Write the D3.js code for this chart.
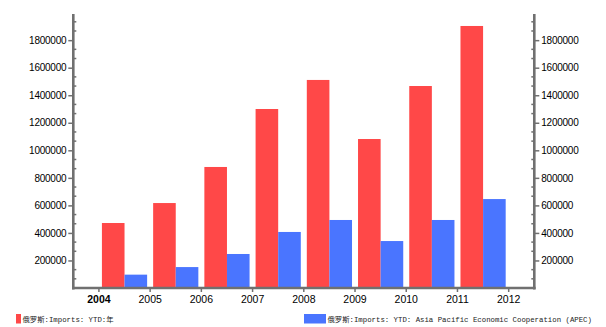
<!DOCTYPE html>
<html><head><meta charset="utf-8">
<script src="https://cdn.jsdelivr.net/npm/d3@7"></script>
<style>body{margin:0;background:#fff;} svg{display:block;}</style>
</head><body>
<div id="chart"></div>
<script>
const years = ["2004","2005","2006","2007","2008","2009","2010","2011","2012"];
const dataYears = ["2004","2005","2006","2007","2008","2009","2010","2011"];
const redValues = [472000, 617000, 879000, 1300000, 1511000, 1082000, 1467000, 1903000];
const blueValues = [97000, 152000, 247000, 407000, 494000, 341000, 494000, 646000];
const yTickValues = [200000,400000,600000,800000,1000000,1200000,1400000,1600000,1800000];
const seriesNames = ["俄罗斯:Imports: YTD:年", "俄罗斯:Imports: YTD: Asia Pacific Economic Cooperation (APEC)"];
const colors = ["#FF4848", "#4A75FF"];

const W = 606, H = 327;
const L = 73.3, R = 534.3, T = 14, B = 288;
const axisColor = "#707070";

const svg = d3.select("#chart").append("svg").attr("width", W).attr("height", H);

const x = d3.scaleBand().domain(years).range([L, R]).padding(0);
const bw = x.bandwidth();
const inner = d3.scaleBand().domain([0,1]).range([0, bw]).paddingInner(0).paddingOuter(0.133);
const y = d3.scaleLinear().domain([0, 1990000]).range([B, T]);

// bars
const series = [redValues, blueValues];
series.forEach((vals, s) => {
  svg.append("g").selectAll("rect").data(vals).join("rect")
    .attr("x", (d, i) => x(dataYears[i]) + bw / 2 + inner(s))
    .attr("width", inner.bandwidth())
    .attr("y", d => y(d))
    .attr("height", d => B - y(d))
    .attr("fill", colors[s]);
});

// minor ticks (thirds)
const minor = [];
for (let v = 0; v <= 1990000; v += 200000 / 3) {
  if (Math.abs((v / 200000) - Math.round(v / 200000)) > 0.01) minor.push(v);
}

function yAxis(side) {
  const g = svg.append("g");
  const ax = side === "left" ? d3.axisLeft(y) : d3.axisRight(y);
  ax.tickValues(yTickValues).tickSize(5).tickPadding(2).tickFormat(d3.format("d"));
  g.attr("transform", `translate(${side === "left" ? L : R},0)`).call(ax);
  g.select(".domain").remove();
  g.selectAll(".tick line").attr("stroke", axisColor).attr("stroke-width", 1.5);
  g.selectAll(".tick text").attr("fill", "#000")
    .style("font-family", "'Liberation Sans', Arial, sans-serif")
    .style("font-size", "10px").style("letter-spacing", "-0.25px");
  // minor ticks inward
  g.selectAll("line.minor").data(minor).join("line").attr("class", "minor")
    .attr("x1", 0).attr("x2", side === "left" ? 3 : -3)
    .attr("y1", d => y(d)).attr("y2", d => y(d))
    .attr("stroke", axisColor).attr("stroke-width", 1.5);
  g.append("line").attr("x1", 0).attr("x2", 0).attr("y1", T).attr("y2", B + 1.5)
    .attr("stroke", axisColor).attr("stroke-width", 2.6);
}
yAxis("left");
yAxis("right");

// x axis
const gx = svg.append("g").attr("transform", `translate(0,${B})`)
  .call(d3.axisBottom(x).tickSize(4).tickPadding(4));
gx.select(".domain").remove();
gx.append("line").attr("x1", L - 1.3).attr("x2", R + 1.3).attr("y1", 0).attr("y2", 0)
  .attr("stroke", axisColor).attr("stroke-width", 2.6);
gx.selectAll(".tick line").attr("stroke", axisColor).attr("stroke-width", 1.5);
gx.selectAll(".tick text").attr("fill", "#000")
  .style("font-family", "'Liberation Sans', Arial, sans-serif")
  .style("font-size", "10.5px")
  .style("font-weight", d => d === "2004" ? "bold" : "normal");

// legend
const legendX = [16, 304];
const legendW = [5, 22];
seriesNames.forEach((name, i) => {
  svg.append("rect").attr("x", legendX[i]).attr("y", 314).attr("width", legendW[i]).attr("height", 9.5)
    .attr("fill", colors[i]);
  svg.append("text").attr("x", legendX[i] + legendW[i] + 1.5).attr("y", 322)
    .style("font-family", "'Liberation Mono', 'Noto Sans CJK SC', monospace")
    .style("font-size", "7.35px").attr("fill", "#222").text(name);
});
</script>
</body></html>
